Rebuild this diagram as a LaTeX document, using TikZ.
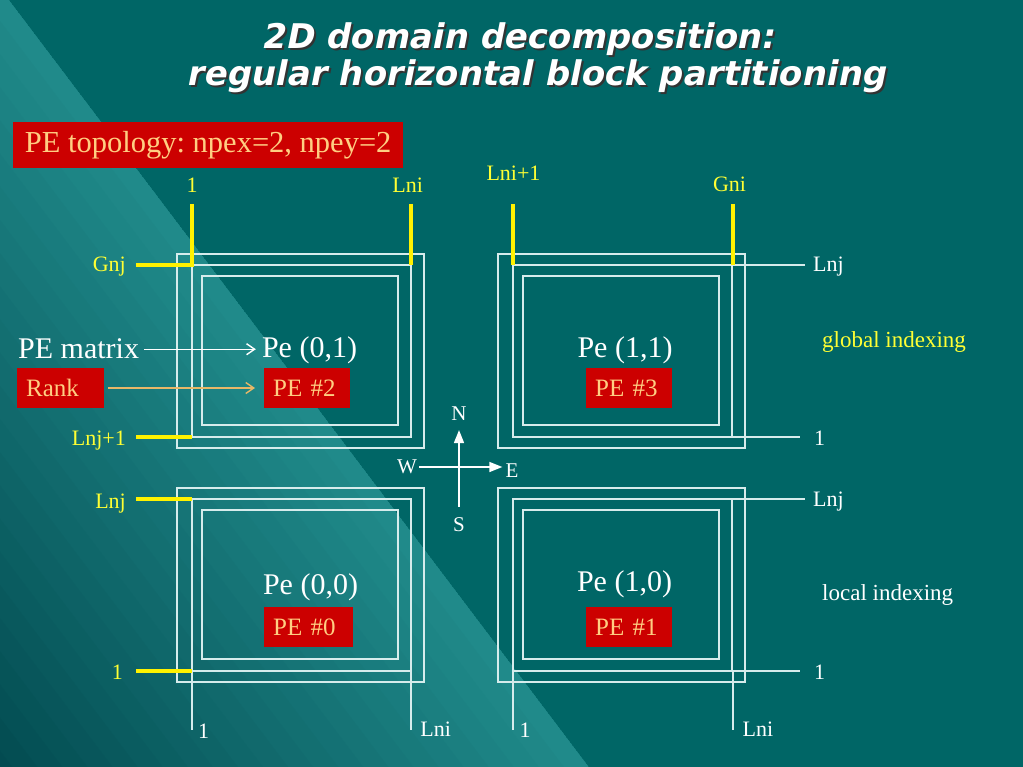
\documentclass[tikz,border=0pt]{standalone}
\usepackage{fontspec}
\setmainfont{Liberation Serif}
\newfontfamily\titlefont[FakeSlant=0.2,BoldFeatures={FakeSlant=0.2}]{DejaVu Sans}
\usepackage{tikz}
\usetikzlibrary{calc,arrows.meta}

\definecolor{slidebg}{RGB}{0,102,102}
\definecolor{bandlight}{RGB}{32,138,138}
\definecolor{banddark}{RGB}{0,70,76}
\definecolor{pered}{RGB}{204,0,0}
\definecolor{peach}{RGB}{255,206,130}
\definecolor{idxyellow}{RGB}{255,255,51}
\definecolor{gridline}{RGB}{214,236,236}
\definecolor{ranktan}{RGB}{232,184,104}

\newcommand{\fsz}[1]{\fontsize{#1}{#1}\selectfont}

\begin{document}
\frenchspacing
\begin{tikzpicture}[x=1pt,y=-1pt,
    idx/.style={text=idxyellow,inner sep=0pt,font=\fsz{22}},
    idxw/.style={text=white,inner sep=0pt,font=\fsz{22}},
    frame/.style={draw=gridline,line width=1.4pt},
    hot/.style={draw=yellow,line width=4pt},
    pe/.style={text=white,inner sep=0pt,anchor=base,font=\fsz{30}},
    rbox/.style={fill=pered,text=peach,inner xsep=9pt,inner ysep=0pt,
                 minimum height=40pt,align=left,anchor=west,font=\fsz{25}},
    ptr/.style={line width=1.4pt,-{Straight Barb[length=8pt,width=11pt]}},
    compass/.style={draw=white,line width=1.4pt},
    tip/.style={-{Triangle[length=13pt,width=10pt]}},
    headline/.style={font=\titlefont\bfseries\fsz{34},anchor=base}]
  \useasboundingbox (0,0) rectangle (1023,767);

  % background and light band
  \fill[slidebg] (0,0) rectangle (1023,767);
  \coordinate (ea) at (-142,-200);
  \coordinate (eb) at (740,967);
  \begin{scope}
    \clip (0,0) -- (9,0) -- (589,767) -- (0,767) -- cycle;
    \foreach \k in {0,...,24}{
      \pgfmathsetmacro{\p}{100-4*\k}
      \fill[bandlight!\p!banddark]
        ($(ea)+{20*\k}*(-0.798,0.603)$) -- ($(eb)+{20*\k}*(-0.798,0.603)$)
        -- ($(eb)+{20*\k+21}*(-0.798,0.603)$) -- ($(ea)+{20*\k+21}*(-0.798,0.603)$) -- cycle;
    }
  \end{scope}

  % title
  \node[headline,text=black!80] at (520,51) {2D domain decomposition:};
  \node[headline,text=white] (title1) at (518,49) {2D domain decomposition:};
  \node[headline,text=black!80] at (538,88) {regular horizontal block partitioning};
  \node[headline,text=white] (title2) at (536,86) {regular horizontal block partitioning};

  \node[rbox,minimum height=46pt,minimum width=390pt,font=\fsz{30.5}] (topo) at (13,145) {PE topology: npex=2, npey=2};

  % the four blocks
  \foreach \bx/\by in {0/0,321/0,0/234,321/234}{
    \draw[frame,shift={(\bx,\by)}] (177,254) rectangle (424,448);
    \draw[frame,shift={(\bx,\by)}] (192,265) rectangle (411,437);
    \draw[frame,shift={(\bx,\by)}] (202,276) rectangle (398,425);
  }
  % extension lines
  \draw[frame] (733,265) -- (805,265);
  \draw[frame] (733,437) -- (800,437);
  \draw[frame] (733,499) -- (805,499);
  \draw[frame] (733,671) -- (800,671);
  \draw[frame] (192,671) -- (192,730);
  \draw[frame] (411,671) -- (411,730);
  \draw[frame] (513,671) -- (513,730);
  \draw[frame] (733,671) -- (733,730);

  % global index marks
  \draw[hot] (192,204) -- (192,265) -- (136,265);
  \draw[hot] (411,204) -- (411,265);
  \draw[hot] (136,437) -- (192,437);
  \draw[hot] (513,204) -- (513,265);
  \draw[hot] (733,204) -- (733,265);
  \draw[hot] (136,499) -- (192,499);
  \draw[hot] (136,671) -- (192,671);

  \node[idx,anchor=base] (gi1) at (192,193) {1};
  \node[idx,anchor=base] (giLni) at (407.7,193) {Lni};
  \node[idx,anchor=base] (giLnip) at (513.5,181) {Lni+1};
  \node[idx,anchor=base] (giGni) at (729.5,192) {Gni};
  \node[idx,anchor=base east] (gjGnj) at (126,272) {Gnj};
  \node[idx,anchor=base east] (gjLnjp) at (126,445.5) {Lnj+1};
  \node[idx,anchor=base east] (gjLnj) at (126,508) {Lnj};
  \node[idx,anchor=base east] (gj1) at (123,679) {1};

  % local index labels
  \node[idxw,anchor=base west] (ljTop1) at (813,272) {Lnj};
  \node[idxw,anchor=base west] (ljBot1) at (814,445) {1};
  \node[idxw,anchor=base west] (ljTop0) at (813,506) {Lnj};
  \node[idxw,anchor=base west] (ljBot0) at (814,679) {1};
  \node[idxw,anchor=base] (li1a) at (203.5,738) {1};
  \node[idxw,anchor=base] (liLa) at (435.7,736) {Lni};
  \node[idxw,anchor=base] (li1b) at (525,737) {1};
  \node[idxw,anchor=base] (liLb) at (758,736) {Lni};

  \node[idx,anchor=base west,font=\fsz{23}] (gidx) at (822,348) {global indexing};
  \node[idxw,anchor=base west,font=\fsz{23}] (lidx) at (822,600.5) {local indexing};

  % processes
  \node[pe] (pe01) at (309.5,357) {Pe (0,1)};
  \node[pe] (pe11) at (625,358) {Pe (1,1)};
  \node[pe] (pe00) at (310.5,594.5) {Pe (0,0)};
  \node[pe] (pe10) at (624.5,591) {Pe (1,0)};
  \node[rbox,text width=68pt] (pe2) at (264,388) {PE \#2};
  \node[rbox,text width=68pt] (pe3) at (586,388) {PE \#3};
  \node[rbox,text width=71pt] (pe0) at (264,627) {PE \#0};
  \node[rbox,text width=68pt] (pe1) at (586,627) {PE \#1};

  \node[pe,anchor=base west] (pemat) at (18,359) {PE matrix};
  \node[rbox,text width=69pt] (rank) at (17,388) {Rank};
  \draw[ptr,white] ($(pemat.east)+(5,0)$) -- ($(pemat.east -| pe01.west)+(-6,0)$);
  \draw[ptr,ranktan] ($(rank.east)+(4,0)$) -- ($(pe2.west)+(-9,0)$);

  % compass
  \node[idxw,font=\fsz{21}] (cN) at (459,414) {N};
  \node[idxw,font=\fsz{21}] (cS) at (459,525) {S};
  \node[idxw,font=\fsz{21}] (cW) at (407,467) {W};
  \node[idxw,font=\fsz{21}] (cE) at (512,471) {E};
  \draw[compass,tip] ($(cS.north)+(0,-11)$) -- ($(cN.south)+(0,9)$);
  \draw[compass,tip] ($(cW.east)+(2,0)$) -- ($(cW.east -| cE.west)+(-3,0)$);
\end{tikzpicture}
\end{document}
